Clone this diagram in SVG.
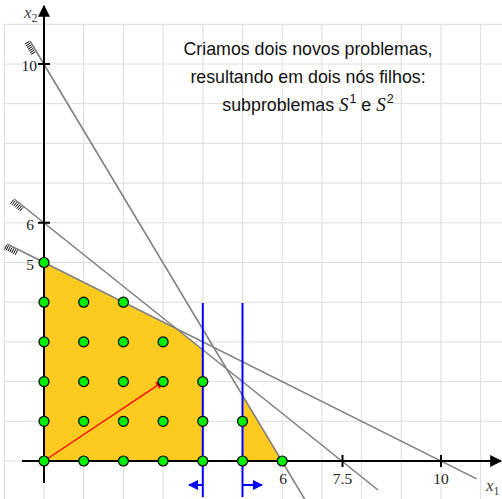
<svg xmlns="http://www.w3.org/2000/svg" width="502" height="499" viewBox="0 0 502 499">
<defs>
<style>
.grid{stroke:#dcdcdc;stroke-width:1;fill:none}
.con{stroke:#808080;stroke-width:1.6;fill:none}
.hatch{stroke:#000;stroke-width:1;fill:none}
.axis{stroke:#000;stroke-width:2;fill:none}
.feas{fill:#FDCB20;stroke:none}
.blue{stroke:#0000ff;stroke-width:2;fill:none}
.dot{fill:#00ee00;stroke:#000;stroke-width:1.2}
.num{font-family:"Liberation Serif",serif;font-size:15.5px;fill:#222}
.lbl{font-family:"Liberation Serif",serif;font-style:italic;font-size:17px;fill:#444}
.txt{font-family:"Liberation Sans",Arial,sans-serif;font-size:17.8px;fill:#111;text-anchor:middle}
.math{font-family:"Liberation Serif",serif;font-style:italic}
</style>
<marker id="ah" viewBox="0 0 10 10" refX="9" refY="5" markerWidth="8" markerHeight="8" orient="auto" markerUnits="userSpaceOnUse"><path d="M0,0 L10,5 L0,10 z" fill="#ff0000"/></marker>
<marker id="bh" viewBox="0 0 10 10" refX="9" refY="5" markerWidth="10" markerHeight="10" orient="auto" markerUnits="userSpaceOnUse"><path d="M0,0 L10,5 L0,10 z" fill="#0000ff"/></marker>
<marker id="kh" viewBox="0 0 10 10" refX="9" refY="5" markerWidth="12" markerHeight="12" orient="auto" markerUnits="userSpaceOnUse"><path d="M0,0 L10,5 L0,10 z" fill="#000"/></marker>
</defs>
<rect width="502" height="499" fill="#fff"/>
<g id="grid" class="grid">
<path d="M4.3 24.3V499 M44 24.3V499 M83.7 24.3V499 M123.4 24.3V499 M163.1 24.3V499 M202.8 24.3V499 M242.5 24.3V499 M282.2 24.3V499 M321.9 24.3V499 M361.6 24.3V499 M401.3 24.3V499 M441 24.3V499 M480.7 24.3V499"/>
<path d="M4.3 24.3H502 M4.3 64H502 M4.3 103.7H502 M4.3 143.4H502 M4.3 183.1H502 M4.3 222.8H502 M4.3 262.5H502 M4.3 302.2H502 M4.3 341.9H502 M4.3 381.6H502 M4.3 421.3H502 M4.3 461H502"/>
</g>
<g id="feasible">
<polygon class="feas" points="44,461 44,262.5 176.3,328.7 202.8,349.8 202.8,461"/>
<polygon class="feas" points="242.5,461 242.5,394.8 282.2,461"/>
</g>
<g id="connectors">
<path class="con" d="M30 41 L307 503"/>
<path class="hatch" d="M29.1 41.5l-4.3 2.6M30.2 43.2l-4.3 2.6M31.2 45l-4.3 2.6M32.2 46.7l-4.3 2.6M33.3 48.4l-4.3 2.6M34.3 50.1l-4.3 2.6M35.3 51.8l-4.3 2.6"/>
<path class="con" d="M14.2 199 L378 490"/>
<path class="hatch" d="M13.6 199.8l-3.1 3.9M15.1 201l-3.1 3.9M16.7 202.3l-3.1 3.9M18.3 203.5l-3.1 3.9M19.8 204.8l-3.1 3.9M21.4 206l-3.1 3.9M23 207.3l-3.1 3.9"/>
<path class="con" d="M7.1 244 L476.7 478.9"/>
<path class="hatch" d="M6.7 244.9l-2.2 4.5M8.4 245.8l-2.2 4.5M10.2 246.7l-2.2 4.5M12 247.6l-2.2 4.5M13.8 248.5l-2.2 4.5M15.6 249.4l-2.2 4.5M17.4 250.3l-2.2 4.5"/>
<path class="blue" d="M202.8 303V497 M242.5 303V497"/>
<path class="blue" d="M202.8 485H189" marker-end="url(#bh)"/>
<path class="blue" d="M242.5 485H262" marker-end="url(#bh)"/>
<path d="M44 461 L163.1 381.6" stroke="#ff0000" stroke-width="1.3" fill="none" marker-end="url(#ah)"/>
</g>
<g id="axes">
<path class="axis" d="M22 461H501" marker-end="url(#kh)"/>
<path class="axis" d="M44 483V6" marker-end="url(#kh)"/>
<path class="axis" d="M342.5 455V467 M441 455V467 M38 64H50 M38 222.8H50"/>
<text class="num" x="37" y="71" text-anchor="end">10</text>
<text class="num" x="34" y="230" text-anchor="end">6</text>
<text class="num" x="34" y="270" text-anchor="end">5</text>
<text class="num" x="283" y="484" text-anchor="middle">6</text>
<text class="num" x="342.5" y="484" text-anchor="middle">7.5</text>
<text class="num" x="441" y="484" text-anchor="middle">10</text>
<text class="lbl" x="24" y="18">x<tspan font-size="12" font-style="normal" dy="4">2</tspan></text>
<text class="lbl" x="486" y="491">x<tspan font-size="12" font-style="normal" dy="4">1</tspan></text>
</g>
<g id="points">
<circle class="dot" cx="44" cy="461" r="5"/><circle class="dot" cx="44" cy="421.3" r="5"/><circle class="dot" cx="44" cy="381.6" r="5"/><circle class="dot" cx="44" cy="341.9" r="5"/><circle class="dot" cx="44" cy="302.2" r="5"/><circle class="dot" cx="44" cy="262.5" r="5"/>
<circle class="dot" cx="83.7" cy="461" r="5"/><circle class="dot" cx="83.7" cy="421.3" r="5"/><circle class="dot" cx="83.7" cy="381.6" r="5"/><circle class="dot" cx="83.7" cy="341.9" r="5"/><circle class="dot" cx="83.7" cy="302.2" r="5"/>
<circle class="dot" cx="123.4" cy="461" r="5"/><circle class="dot" cx="123.4" cy="421.3" r="5"/><circle class="dot" cx="123.4" cy="381.6" r="5"/><circle class="dot" cx="123.4" cy="341.9" r="5"/><circle class="dot" cx="123.4" cy="302.2" r="5"/>
<circle class="dot" cx="163.1" cy="461" r="5"/><circle class="dot" cx="163.1" cy="421.3" r="5"/><circle class="dot" cx="163.1" cy="381.6" r="5"/><circle class="dot" cx="163.1" cy="341.9" r="5"/>
<circle class="dot" cx="202.8" cy="461" r="5"/><circle class="dot" cx="202.8" cy="421.3" r="5"/><circle class="dot" cx="202.8" cy="381.6" r="5"/>
<circle class="dot" cx="242.5" cy="461" r="5"/><circle class="dot" cx="242.5" cy="421.3" r="5"/>
<circle class="dot" cx="282.2" cy="461" r="5"/>
</g>
<g id="caption">
<text class="txt" x="308" y="55">Criamos dois novos problemas,</text>
<text class="txt" x="308" y="83">resultando em dois nós filhos:</text>
<text class="txt" x="308" y="111">subproblemas <tspan class="math" font-size="19">S</tspan><tspan font-size="12.5" dy="-8" dx="1">1</tspan><tspan dy="8"> e </tspan><tspan class="math" font-size="19">S</tspan><tspan font-size="12.5" dy="-8" dx="1">2</tspan></text>
</g>
</svg>
